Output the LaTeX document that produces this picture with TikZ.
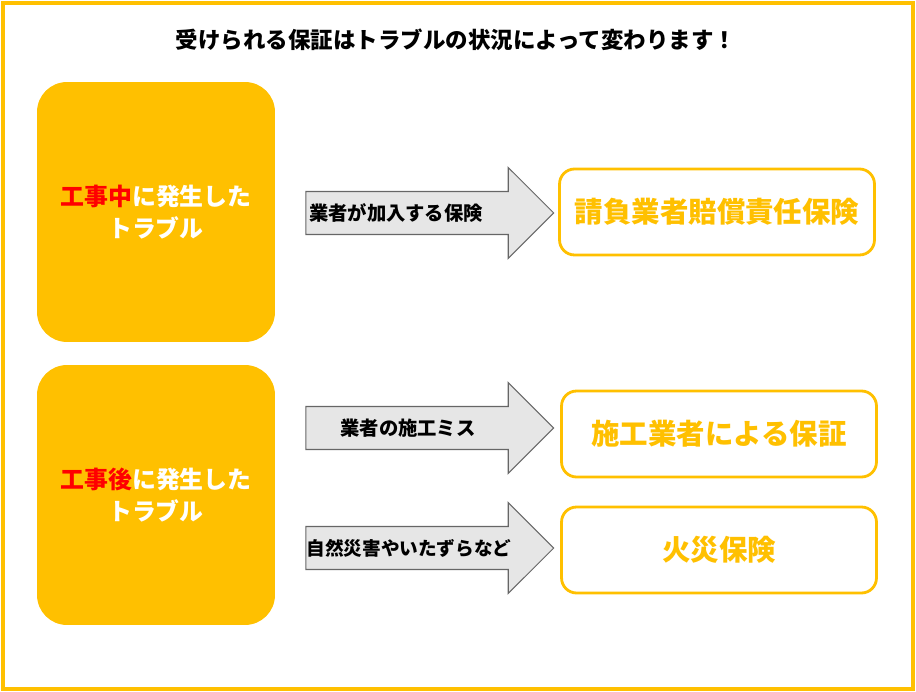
\documentclass[tikz,border=0pt]{standalone}
\usepackage{fontspec}
\setmainfont{Noto Sans CJK JP}
\usetikzlibrary{shapes.arrows}
\definecolor{gold}{HTML}{FFC000}
\definecolor{trred}{HTML}{FF0000}
\definecolor{arrowgray}{HTML}{E6E6E6}
\begin{document}
\begin{tikzpicture}[x=0.02cm, y=-0.02cm, font=\bfseries]
        \tikzstyle{cause} = [rectangle, fill=gold, rounded corners=0.6cm, minimum width=4.76cm,
                            minimum height=5.2cm, text=white, align=center, font=\bfseries\fontsize{13.6}{18}\selectfont]
        \tikzstyle{result} = [rectangle, draw=gold, line width=1.6pt, fill=white, rounded corners=0.3cm,
                            minimum width=6.3cm, minimum height=1.72cm, text=gold, font=\bfseries\fontsize{16.2}{19}\selectfont]
        \tikzstyle{flow} = [single arrow, draw=black!60, fill=arrowgray, minimum height=4.96cm,
                            minimum width=1.8cm, single arrow head extend=0.48cm, single arrow head indent=0cm,
                            inner xsep=0pt, inner ysep=0.42cm, line width=0.6pt]

        \useasboundingbox (0,0) rectangle (916,692);
        \draw[gold, line width=1.8pt] (3,3) rectangle (913,689);
        \node[font=\bfseries\fontsize{12.8}{15}\selectfont] (title) at (456,40) {受けられる保証はトラブルの状況によって変わります！};

        % 左のブロック
        \node[cause] (during) at (156,212) {\textcolor{trred}{工事中}に発生した\\トラブル};
        \node[cause] (after) at (156,495) {\textcolor{trred}{工事後}に発生した\\トラブル};

        % 矢印
        \node[flow] (arr1) at (419,213) {};
        \node[flow] (arr2) at (419,428) {};
        \node[flow] (arr3) at (419,548) {};
        \node[font=\bfseries\fontsize{11}{13}\selectfont] (lab1) at (396,213) {業者が加入する保険};
        \node[font=\bfseries\fontsize{11}{13}\selectfont] (lab2) at (408,428) {業者の施工ミス};
        \node[font=\bfseries\fontsize{10.6}{12}\selectfont] (lab3) at (409,548) {自然災害やいたずらなど};

        % 右のブロック
        \node[result] (ins1) at (717,212) {請負業者賠償責任保険};
        \node[result] (ins2) at (719,434) {施工業者による保証};
        \node[result] (ins3) at (719,550) {火災保険};
    \end{tikzpicture}
\end{document}
